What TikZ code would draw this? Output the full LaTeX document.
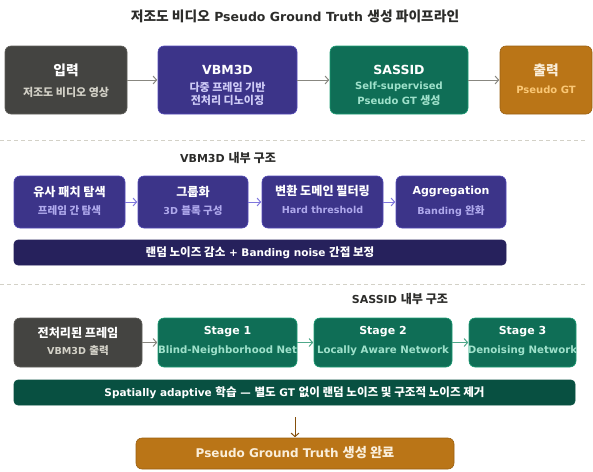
\documentclass[tikz,border=0pt]{standalone}
\usepackage{fontspec}
\setmainfont{DejaVu Sans}
\newfontfamily\krfont{Noto Sans CJK KR}[Scale=1.1]
\newcommand\kr[1]{{\krfont #1}}
\newcommand\fsz[1]{\fontsize{#1}{#1}\selectfont}
\usetikzlibrary{arrows.meta}
\definecolor{cgray}{HTML}{444441}
\definecolor{cgrayb}{HTML}{5F5E5A}
\definecolor{cgraysub}{HTML}{D3D1C7}
\definecolor{cpurple}{HTML}{3C3489}
\definecolor{cpurpleb}{HTML}{534AB7}
\definecolor{cpurplesub}{HTML}{CECBF6}
\definecolor{cpurplesubb}{HTML}{AFA9EC}
\definecolor{cgreen}{HTML}{0F6E56}
\definecolor{cgreenb}{HTML}{1D9E75}
\definecolor{cgreensub}{HTML}{9FE1CB}
\definecolor{corange}{HTML}{BA7517}
\definecolor{coranged}{HTML}{9A6012}
\definecolor{corangesub}{HTML}{FAC775}
\definecolor{ccream}{HTML}{FAEEDA}
\definecolor{cnavy}{HTML}{26215C}
\definecolor{cdkgreen}{HTML}{085041}
\definecolor{chead}{HTML}{2C2C2A}
\definecolor{carrgray}{HTML}{888780}
\definecolor{carrpurple}{HTML}{7F77DD}
\definecolor{carrgreen}{HTML}{4FA88A}
\definecolor{carrbrown}{HTML}{854F0B}
\definecolor{csep}{HTML}{D3D1C7}
\begin{document}
\begin{tikzpicture}[x=1pt,y=-1pt,font=\bfseries,
  box/.style={rectangle, rounded corners=6pt, line width=0.6pt, inner sep=0pt},
  bar/.style={rectangle, rounded corners=4pt, line width=0.6pt, inner sep=0pt, text=white, font=\bfseries\fsz{10.5}},
  ttlA/.style={inner sep=0pt, text=white, font=\bfseries\fsz{12.5}},
  subA/.style={inner sep=0pt, font=\bfseries\fsz{10}},
  ttlB/.style={inner sep=0pt, text=white, font=\bfseries\fsz{11}},
  subB/.style={inner sep=0pt, font=\bfseries\fsz{9.6}},
  subC/.style={inner sep=0pt, font=\bfseries\fsz{10.2}},
  head/.style={inner sep=0pt, text=chead, font=\bfseries\fsz{11}},
  arr/.style={line width=1pt, -{Straight Barb[length=3.5pt,width=8pt]}, shorten >=0.5pt},
  sep/.style={draw=csep, line width=0.8pt, dash pattern=on 4pt off 3pt}]
\useasboundingbox (0,0) rectangle (593,471);

% title
\node[inner sep=0pt, text=chead, font=\bfseries\fsz{12.5}] (title) at (295,16) {\kr{저조도 비디오} Pseudo Ground Truth \kr{생성 파이프라인}};

% row 1
\node[box, fill=cgray, draw=cgrayb, minimum width=122pt, minimum height=68pt] (in) at (66,80) {};
\node[ttlA] (inT) at (66,70) {\kr{입력}};
\node[subA, text=cgraysub] (inS) at (66,92) {\kr{저조도 비디오 영상}};

\node[box, fill=cpurple, draw=cpurpleb, minimum width=139pt, minimum height=68pt] (vbm) at (227.5,80) {};
\node[ttlA] (vbmT) at (227.5,70) {VBM3D};
\node[subA, text=cpurplesub] (vbmS1) at (227.5,87) {\kr{다중 프레임 기반}};
\node[subA, text=cpurplesub] (vbmS2) at (227.5,100) {\kr{전처리 디노이징}};

\node[box, fill=cgreen, draw=cgreenb, minimum width=138pt, minimum height=68pt] (sas) at (399,80) {};
\node[ttlA] (sasT) at (399,70) {SASSID};
\node[subA, text=cgreensub] (sasS1) at (399,87) {Self-supervised};
\node[subA, text=cgreensub] (sasS2) at (399,100) {Pseudo GT \kr{생성}};

\node[box, fill=corange, draw=coranged, minimum width=92pt, minimum height=68pt] (out) at (546,80) {};
\node[ttlA, text=ccream] (outT) at (546,70) {\kr{출력}};
\node[subA, text=corangesub] (outS) at (546,90) {Pseudo GT};

\draw[arr, carrgray] (in) -- (vbm);
\draw[arr, carrgray] (vbm) -- (sas);
\draw[arr, carrgray] (sas) -- (out);

% separator 1
\coordinate (d1a) at (0,140);
\coordinate (d1b) at (586,140);
\draw[sep] (d1a) -- (d1b);

% VBM3D internal
\node[head] (h1) at (228,158) {VBM3D \kr{내부 구조}};

\node[box, fill=cpurple, draw=cpurpleb, minimum width=111pt, minimum height=52pt] (pa) at (69.5,202) {};
\node[ttlB] (paT) at (69.5,192) {\kr{유사 패치 탐색}};
\node[subB, text=cpurplesubb] (paS) at (69.5,211) {\kr{프레임 간 탐색}};

\node[box, fill=cpurple, draw=cpurpleb, minimum width=110pt, minimum height=52pt] (pb) at (193,202) {};
\node[ttlB] (pbT) at (193,192) {\kr{그룹화}};
\node[subB, text=cpurplesubb] (pbS) at (193,211) {3D \kr{블록 구성}};

\node[box, fill=cpurple, draw=cpurpleb, minimum width=121pt, minimum height=52pt] (pc) at (322.5,202) {};
\node[ttlB] (pcT) at (322.5,191) {\kr{변환 도메인 필터링}};
\node[subB, text=cpurplesubb] (pcS) at (322.5,210) {Hard threshold};

\node[box, fill=cpurple, draw=cpurpleb, minimum width=110pt, minimum height=52pt] (pd) at (451,202) {};
\node[ttlB] (pdT) at (451,192) {Aggregation};
\node[subB, text=cpurplesubb] (pdS) at (451,211) {Banding \kr{완화}};

\draw[arr, carrpurple] (pa) -- (pb);
\draw[arr, carrpurple] (pb) -- (pc);
\draw[arr, carrpurple] (pc) -- (pd);

\node[bar, fill=cnavy, draw=cnavy, minimum width=492pt, minimum height=25pt] (bar1) at (260,252.5) {\kr{랜덤 노이즈 감소} + Banding noise \kr{간접 보정}};

% separator 2
\coordinate (d2a) at (0,284);
\coordinate (d2b) at (586,284);
\draw[sep] (d2a) -- (d2b);

% SASSID internal
\node[head] (h2) at (400,299) {SASSID \kr{내부 구조}};

\node[box, fill=cgray, draw=cgrayb, minimum width=128pt, minimum height=49pt] (pre) at (78,342.5) {};
\node[ttlB] (preT) at (78,333) {\kr{전처리된 프레임}};
\node[subB, text=cgraysub] (preS) at (78,351) {VBM3D \kr{출력}};

\node[box, fill=cgreen, draw=cgreenb, minimum width=139pt, minimum height=49pt] (st1) at (227.5,342.5) {};
\node[box, fill=cgreen, draw=cgreenb, minimum width=138pt, minimum height=49pt] (st2) at (383,342.5) {};
\node[box, fill=cgreen, draw=cgreenb, minimum width=107pt, minimum height=49pt] (st3) at (522.5,342.5) {};

\node[ttlB] (st1T) at (227.5,332) {Stage 1};
\node[ttlB] (st2T) at (383,332) {Stage 2};
\node[ttlB] (st3T) at (522.5,332) {Stage 3};
\begin{scope}
\clip (st1.south west) rectangle (st1.north east);
\node[subC, text=cgreensub] (st1S) at (227.5,350.5) {Blind-Neighborhood Net};
\end{scope}
\begin{scope}
\clip (st2.south west) rectangle (st2.north east);
\node[subC, text=cgreensub] (st2S) at (383,350.5) {Locally Aware Network};
\end{scope}
\begin{scope}
\clip (st3.south west) rectangle (st3.north east);
\node[subC, text=cgreensub] (st3S) at (522.5,350.5) {Denoising Network};
\end{scope}

\draw[arr, carrgray] (pre) -- (st1);
\draw[arr, carrgreen] (st1) -- (st2);
\draw[arr, carrgreen] (st2) -- (st3);

\node[bar, fill=cdkgreen, draw=cdkgreen, minimum width=561pt, minimum height=25pt] (bar2) at (294.5,392.5) {Spatially adaptive \kr{학습} — \kr{별도} GT \kr{없이 랜덤 노이즈 및 구조적 노이즈 제거}};

% final
\node[box, fill=corange, draw=coranged, minimum width=318pt, minimum height=31pt] (fin) at (295,453.5) {};
\node[inner sep=0pt, text=ccream, font=\bfseries\fsz{12}] (finT) at (295,453) {Pseudo Ground Truth \kr{생성 완료}};
\coordinate (dn) at (295,417);
\draw[arr, carrbrown] (dn) -- (fin.north);
\end{tikzpicture}
\end{document}
